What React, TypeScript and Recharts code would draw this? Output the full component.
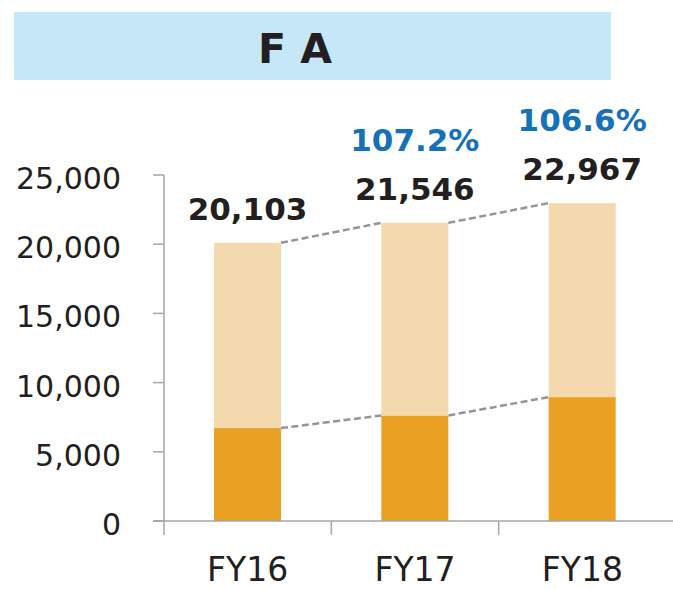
import { BarChart, Bar, XAxis, YAxis } from "recharts";

const years = ["FY16", "FY17", "FY18"];
const totals = [20103, 21546, 22967];
const baseValues = [6714, 7624, 8952];
const growthLabels = ["", "107.2%", "106.6%"];
const yTicks = [0, 5000, 10000, 15000, 20000, 25000];

const W = 673;
const H = 589;
const Y_AXIS_W = 164;
const MARGIN = { top: 175, right: 7, bottom: 0, left: 0 };
const X_AXIS_H = 68;
const STEP = (W - Y_AXIS_W - MARGIN.left - MARGIN.right) / years.length;

const FONT = "'DejaVu Sans', Verdana, sans-serif";
const AXIS = "#a6a6a6";
const DARK = "#231f20";
const BLUE = "#1571b9";
const DASH = "#959595";

const rows = years.map((year, i) => ({
  year,
  base: baseValues[i],
  rest: totals[i] - baseValues[i],
  total: totals[i],
}));

const fmt = (v: number) => v.toLocaleString("en-US");

// bottom segment + dashed connector to the next bar's bottom segment
function BaseShape(props: any) {
  const { x, y, width, height, index } = props;
  const ppu = height / baseValues[index];
  const zero = y + height;
  const next = baseValues[index + 1];
  return (
    <g>
      <rect x={x} y={y} width={width} height={height} fill="#e8a122" />
      {next !== undefined && (
        <line
          x1={x + width}
          y1={y}
          x2={x + STEP}
          y2={zero - next * ppu}
          stroke={DASH}
          strokeWidth={2.5}
          strokeDasharray="7 3.5"
        />
      )}
    </g>
  );
}

// top segment + connector + total / growth labels
function RestShape(props: any) {
  const { x, y, width, height, index } = props;
  const rest = totals[index] - baseValues[index];
  const ppu = height / rest;
  const zero = y + height + baseValues[index] * ppu;
  const next = totals[index + 1];
  const cx = x + width / 2;
  return (
    <g>
      <rect x={x} y={y} width={width} height={height} fill="#f4d8ae" />
      {next !== undefined && (
        <line
          x1={x + width}
          y1={y}
          x2={x + STEP}
          y2={zero - next * ppu}
          stroke={DASH}
          strokeWidth={2.5}
          strokeDasharray="7 3.5"
        />
      )}
      <text x={cx} y={y - 23} textAnchor="middle" fontFamily={FONT} fontWeight="bold" fontSize={31} fill={DARK}>
        {fmt(totals[index])}
      </text>
      {growthLabels[index] && (
        <text x={cx} y={y - 72} textAnchor="middle" fontFamily={FONT} fontWeight="bold" fontSize={31} fill={BLUE}>
          {growthLabels[index]}
        </text>
      )}
    </g>
  );
}

function XTick(props: any) {
  const { x, y, payload, index } = props;
  const left = x - STEP / 2;
  const right = x + STEP / 2;
  const last = index === years.length - 1;
  return (
    <g>
      <line x1={index === 0 ? left - 11 : left} x2={last ? W : right} y1={y} y2={y} stroke={AXIS} strokeWidth={1.5} />
      <line x1={left} x2={left} y1={y} y2={y + 14} stroke={AXIS} strokeWidth={1.5} />
      <text x={x} y={y + 60} textAnchor="middle" fontFamily={FONT} fontSize={33} fill={DARK}>
        {payload.value}
      </text>
    </g>
  );
}

function YTick(props: any) {
  const { x, y, payload } = props;
  return (
    <text x={x} y={y} dy={14} textAnchor="end" fontFamily={FONT} fontSize={30} fill={DARK}>
      {fmt(payload.value)}
    </text>
  );
}

export default function App() {
  return (
    <div style={{ position: "absolute", left: 0, top: 0, width: W, height: H, background: "#fff" }}>
      <svg width={W} height={H} style={{ position: "absolute", left: 0, top: 0 }}>
        <rect x={14} y={12} width={597} height={68} fill="#c5e7f7" />
        <text x={295} y={63} textAnchor="middle" fontFamily={FONT} fontWeight="bold" fontSize={41} fill={DARK}>
          F A
        </text>
      </svg>
      <div style={{ position: "absolute", left: 0, top: 0 }}>
        <BarChart width={W} height={H} data={rows} margin={MARGIN}>
          <XAxis
            dataKey="year"
            height={X_AXIS_H}
            axisLine={false}
            tickLine={false}
            tickSize={0}
            tickMargin={0}
            interval={0}
            tick={<XTick />}
          />
          <YAxis
            width={Y_AXIS_W}
            domain={[0, 25000]}
            ticks={yTicks}
            interval={0}
            tickSize={11}
            tickMargin={32}
            axisLine={{ stroke: AXIS, strokeWidth: 1.5 }}
            tickLine={{ stroke: AXIS, strokeWidth: 1.5 }}
            tick={<YTick />}
          />
          <Bar dataKey="base" stackId="a" barSize={67} shape={<BaseShape />} isAnimationActive={false} />
          <Bar dataKey="rest" stackId="a" barSize={67} shape={<RestShape />} isAnimationActive={false} />
        </BarChart>
      </div>
    </div>
  );
}
